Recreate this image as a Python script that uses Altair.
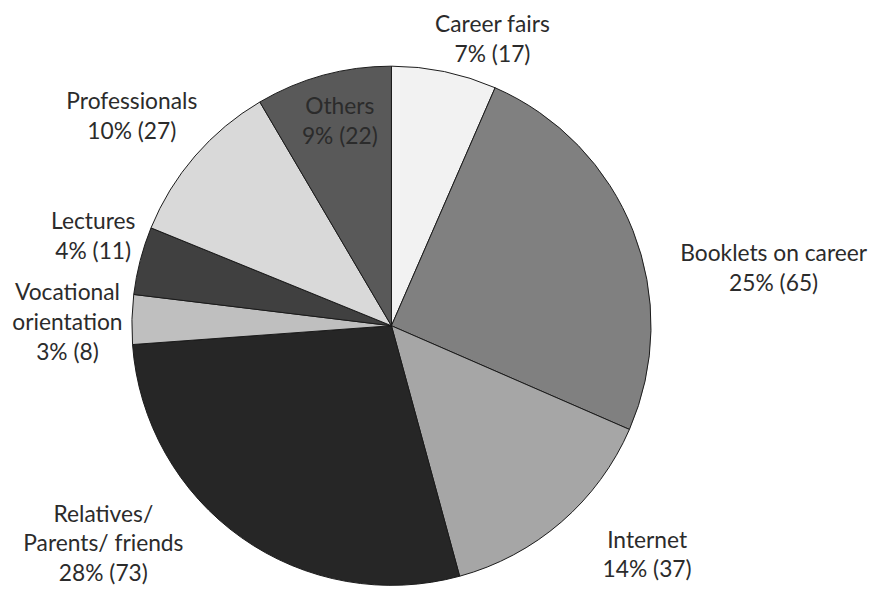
import math
import altair as alt
import pandas as pd

# ---- data ----
categories = ["Career fairs", "Booklets on career", "Internet", "Relatives/\nParents/ friends",
              "Vocational\norientation", "Lectures", "Professionals", "Others"]
counts = [17, 65, 37, 73, 8, 11, 27, 22]
percents = [7, 25, 14, 28, 3, 4, 10, 9]

# ---- styles ----
colors = ["#f2f2f2", "#808080", "#a6a6a6", "#262626", "#bfbfbf", "#404040", "#d9d9d9", "#595959"]
label_angle_nudge = [7.7, 13.0, -7.2, 17.5, -0.9, 2.0, -2.1, 1.0]   # degrees
label_radius = [306, 390, 347, 365, 327, 314, 336, 212]              # px (to block centre)
CX, CY, R = 387, 318, 262
LINE_H = 30

total = sum(counts)
rows = []
cum = 0
for i, (c, v, p) in enumerate(zip(categories, counts, percents)):
    mid = (cum + v / 2) / total * 360
    cum += v
    a = math.radians(mid + label_angle_nudge[i])
    text = f"{c}\n{p}% ({v})"
    n_lines = text.count("\n") + 1
    rows.append({
        "idx": i,
        "cat": c,
        "value": v,
        "label": text,
        "lx": CX + label_radius[i] * math.sin(a),
        "ly": CY - label_radius[i] * math.cos(a) - (n_lines - 1) * LINE_H / 2,
    })
df = pd.DataFrame(rows)

base = alt.Chart(df)

pie = base.mark_arc(outerRadius=R, stroke="#1a1a1a", strokeWidth=1).encode(
    theta=alt.Theta("value:Q", stack=True),
    order=alt.Order("idx:Q"),
    color=alt.Color("cat:N", scale=alt.Scale(domain=categories, range=colors), legend=None),
    x=alt.value(CX),
    y=alt.value(CY),
)

labels = base.mark_text(
    lineBreak="\n", font="Lato", fontSize=23, lineHeight=LINE_H,
    align="center", baseline="middle", color="#2b2b2b",
).encode(
    x=alt.X("lx:Q", scale=None),
    y=alt.Y("ly:Q", scale=None),
    text="label:N",
)

chart = alt.layer(pie, labels).properties(
    width=870, height=583, padding=0,
    autosize=alt.AutoSizeParams(type="none"),
).configure_view(stroke=None)

chart.save("out.html", embed_options={"renderer": "svg", "actions": False})
